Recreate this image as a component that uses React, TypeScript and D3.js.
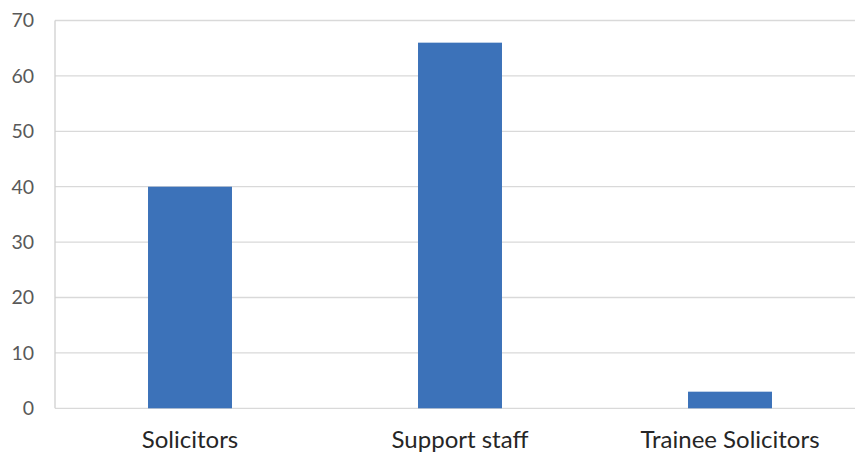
import React from "react";
import * as d3 from "d3";

const categories = ["Solicitors", "Support staff", "Trainee Solicitors"];
const values = [40, 66, 3];
const yTicks = [0, 10, 20, 30, 40, 50, 60, 70];

const W = 855;
const H = 454;
const margin = { left: 55, top: 20.5, bottom: 45.7 };
const plotRight = 865;

export default function App() {
  const x = d3
    .scaleBand<string>()
    .domain(categories)
    .range([margin.left, plotRight])
    .paddingInner(0.689)
    .paddingOuter(0.3445);
  const y = d3
    .scaleLinear()
    .domain([0, 70])
    .range([H - margin.bottom, margin.top]);

  return (
    <svg
      width={W}
      height={H}
      style={{ position: "absolute", left: 0, top: 0, background: "#fff" }}
      fontFamily="Lato, 'Open Sans', sans-serif"
    >
      {yTicks.map((t) => (
        <g key={t}>
          <line
            x1={margin.left}
            x2={W}
            y1={y(t)}
            y2={y(t)}
            stroke="#d9d9d9"
            strokeWidth={1.3}
          />
          <text
            x={34}
            y={y(t)}
            dy="0.35em"
            textAnchor="end"
            fontSize={19.5}
            fill="#595959"
          >
            {t}
          </text>
        </g>
      ))}
      <line
        x1={margin.left}
        x2={margin.left}
        y1={y(0)}
        y2={y(70)}
        stroke="#d0d0d0"
        strokeWidth={1.3}
      />
      {categories.map((c, i) => (
        <rect
          key={c}
          x={x(c)}
          y={y(values[i])}
          width={x.bandwidth()}
          height={y(0) - y(values[i])}
          fill="#3c72b9"
        />
      ))}
      {categories.map((c) => (
        <text
          key={c}
          x={(x(c) ?? 0) + x.bandwidth() / 2}
          y={448}
          textAnchor="middle"
          fontSize={24}
          fill="#262626"
        >
          {c}
        </text>
      ))}
    </svg>
  );
}
